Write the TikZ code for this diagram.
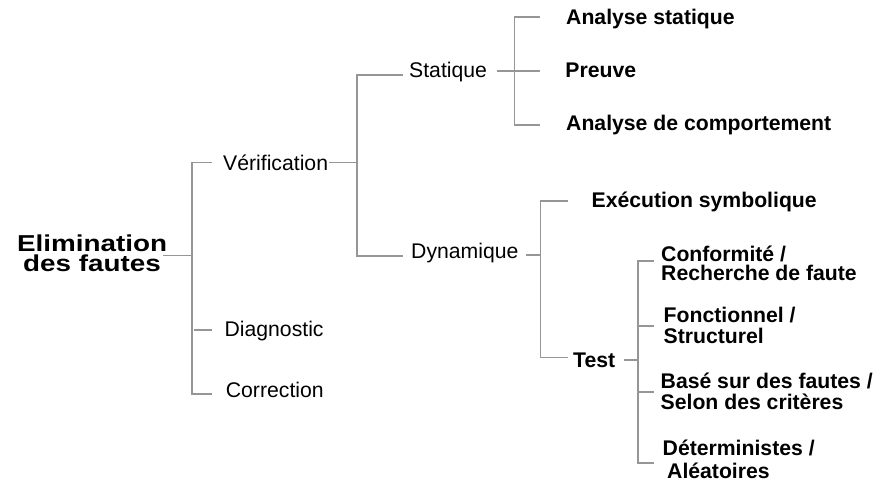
\documentclass[tikz,border=0pt]{standalone}
\usepackage{fontspec}
\setmainfont{Liberation Sans}
\newfontfamily\rootfont{Liberation Sans}[FakeStretch=1.21]
\definecolor{lngray}{RGB}{150,150,150}
\tikzset{
  ln/.style={draw=lngray, line width=1.2pt},
  lbl/.style={inner sep=0pt, anchor=base west, font=\fontsize{21.2}{21}\selectfont},
  leaf/.style={inner sep=0pt, anchor=base west, align=left, font=\fontsize{21.2}{18.3}\selectfont\bfseries},
  rootlbl/.style={inner sep=0pt, anchor=base, align=center, font=\rootfont\fontsize{23}{19.3}\selectfont\bfseries}
}
\begin{document}
\begin{tikzpicture}[x=1pt,y=-1pt]
\useasboundingbox (0,0) rectangle (879,483);
% text nodes (multi-line nodes anchored at the baseline of their last line)
\node[rootlbl] (root) at (92,271) {Elimination\\des fautes};
\node[lbl] (verif) at (223,170) {Vérification};
\node[lbl] (diag) at (224.4,336.7) {Diagnostic};
\node[lbl] (corr) at (225.7,397.5) {Correction};
\node[lbl] (stat) at (409,77.5) {Statique};
\node[lbl] (dyn) at (411,258.3) {Dynamique};
\node[leaf] (as) at (566,24) {Analyse statique};
\node[leaf] (preuve) at (565.2,77.5) {Preuve};
\node[leaf] (adc) at (566,130) {Analyse de comportement};
\node[leaf] (exec) at (591.5,207.5) {Exécution symbolique};
\node[leaf] (test) at (573,367) {Test};
\node[leaf] (conf) at (661,280) {Conformité /\\Recherche de faute};
\node[leaf] (fonc) at (663.5,343.3) {Fonctionnel /\\[2.3pt]Structurel};
\node[leaf] (basef) at (660.5,409.3) {Basé sur des fautes /\\[2.7pt]Selon des critères};
\node[leaf] (det) at (662.5,478.3) {Déterministes /\\[5pt]\hspace*{4.5pt}Aléatoires};
% junction coordinates
\coordinate (r0) at (163,255.7);
\coordinate (rt) at (192,162.5);
\coordinate (rm) at (192,255.7);
\coordinate (rb) at (192,394);
\coordinate (v0) at (329,162.5);
\coordinate (vt) at (357,75);
\coordinate (vm) at (357,162.5);
\coordinate (vb) at (357,256);
\coordinate (s0) at (496.7,71);
\coordinate (st) at (514.3,17);
\coordinate (sb) at (514.3,125);
\coordinate (d0) at (526,255);
\coordinate (dt) at (540.7,201);
\coordinate (dm) at (540.7,255);
\coordinate (db) at (540.7,357.7);
\coordinate (t0) at (624,360);
\coordinate (tt) at (638,261);
\coordinate (tm) at (638,360);
\coordinate (tb) at (638,463);
% root bracket
\draw[ln] (r0) -- (rm);
\draw[ln] (212,162.5) -- (rt) -- (rb) -- (212,394);
\draw[ln] (194,330) -- (212,330);
% verification bracket
\draw[ln] (v0) -- (vm);
\draw[ln] (403,75) -- (vt) -- (vb) -- (403,256);
% statique bracket
\draw[ln] (s0) -- (540,71);
\draw[ln] (540,17) -- (st) -- (sb) -- (540,125);
% dynamique bracket
\draw[ln] (d0) -- (dm);
\draw[ln] (567.5,201) -- (dt) -- (db) -- (567.5,357.7);
% test bracket
\draw[ln] (t0) -- (tm);
\draw[ln] (653.5,261) -- (tt) -- (tb) -- (653.5,463);
\draw[ln] (638,326) -- (653.5,326);
\draw[ln] (638,392) -- (653.5,392);
\end{tikzpicture}
\end{document}
